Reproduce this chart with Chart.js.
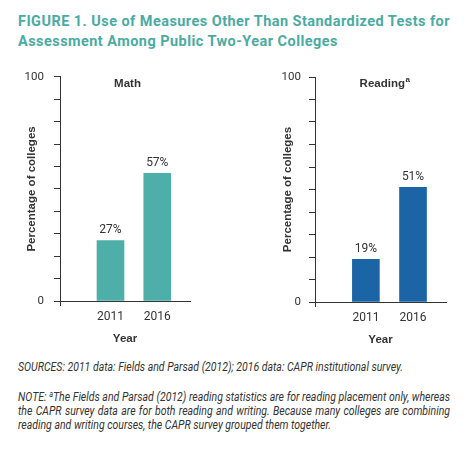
<!DOCTYPE html>
<html>
<head>
<meta charset="utf-8">
<script src="https://cdn.jsdelivr.net/npm/chart.js@4.4.1/dist/chart.umd.min.js"></script>
<style>
  body { margin: 0; width: 472px; height: 450px; background: #fff; position: relative; overflow: hidden; font-family: Roboto, sans-serif; }
  .titulo { position: absolute; left: 18px; top: 10.5px; color: #4aaba3; font-weight: 700; font-size: 15.5px; line-height: 20px; letter-spacing: 0.5px; transform-origin: 0 0; white-space: nowrap; }
  .painel { position: absolute; }
  .rodape { position: absolute; left: 18px; color: #333; font-style: italic; font-size: 12.5px; line-height: 14.3px; transform-origin: 0 0; white-space: nowrap; }
  .linha { display: block; text-align: justify; text-align-last: justify; }
  sup { font-size: 0.7em; vertical-align: 0.45em; line-height: 0; }
</style>
</head>
<body>
<div class="titulo" id="titulo"><span id="t1">FIGURE 1. Use of Measures Other Than Standardized Tests for</span><br><span>Assessment Among Public Two-Year Colleges</span></div>

<canvas class="painel" id="graficoMat" width="236" height="287" style="left:0;top:60px"></canvas>
<canvas class="painel" id="graficoLeit" width="236" height="287" style="left:236px;top:61px"></canvas>

<div class="rodape" id="fontes" style="top:359.5px"><span id="f1">SOURCES: 2011 data: Fields and Parsad (2012); 2016 data: CAPR institutional survey.</span></div>
<div class="rodape" id="nota" style="top:389.5px">
  <span class="linha">NOTE: <sup>a</sup>The Fields and Parsad (2012) reading statistics are for reading placement only, whereas</span>
  <span class="linha">the CAPR survey data are for both reading and writing. Because many colleges are combining</span>
  <span style="display:block">reading and writing courses, the CAPR survey grouped them together.</span>
</div>

<script>
// Dados do gráfico
const anos = [2011, 2016];
const matematica = [27, 57];
const leitura = [19, 51];
const rotulosY = [0, 100];

// Limites do eixo x (anos) para posicionar as barras como no original
const X_MIN = 2005.6;
const X_MAX = 2019.5;

// Ajuste do texto condensado (título e rodapé)
const titulo = document.getElementById('titulo');
const escalaTitulo = 432 / document.getElementById('t1').getBoundingClientRect().width;
titulo.style.transform = `scaleX(${escalaTitulo})`;

const escalaRodape = 385 / document.getElementById('f1').getBoundingClientRect().width;
document.getElementById('fontes').style.transform = `scaleX(${escalaRodape})`;
const nota = document.getElementById('nota');
nota.style.width = `${432 / escalaRodape}px`;
nota.style.transform = `scaleX(${escalaRodape})`;

// Rótulos de valor e título do painel
const rotulos = {
    id: 'rotulos',
    afterDatasetsDraw(chart, args, opts) {
        const { ctx, chartArea } = chart;
        ctx.save();
        ctx.fillStyle = '#333';
        ctx.font = '12px Roboto';
        ctx.textAlign = 'center';
        ctx.textBaseline = 'alphabetic';
        const dados = chart.data.datasets[0].data;
        chart.getDatasetMeta(0).data.forEach((barra, i) => {
            ctx.fillText(dados[i].y + '%', barra.x, barra.y - 7);
        });

        // título do painel (com sobrescrito opcional)
        ctx.font = 'bold 11.5px "Liberation Sans"';
        ctx.textBaseline = 'middle';
        ctx.textAlign = 'left';
        const w1 = ctx.measureText(opts.texto).width;
        ctx.font = 'bold 8px "Liberation Sans"';
        const w2 = opts.sup ? ctx.measureText(opts.sup).width : 0;
        const cx = (chartArea.left + chartArea.right) / 2 + opts.desvio;
        const x0 = cx - (w1 + w2) / 2;
        const y0 = chartArea.top + 6.5;
        ctx.font = 'bold 11.5px "Liberation Sans"';
        ctx.fillText(opts.texto, x0, y0);
        if (opts.sup) {
            ctx.font = 'bold 8px "Liberation Sans"';
            ctx.fillText(opts.sup, x0 + w1 + 0.5, y0 - 4);
        }
        ctx.restore();
    }
};

function criarPainel(idCanvas, valores, cor, texto, sup, desvio, larguraY, margemDireita, margemTitulo, margemTicks) {
    return new Chart(document.getElementById(idCanvas), {
        type: 'bar',
        data: {
            datasets: [{
                data: anos.map((a, i) => ({ x: a, y: valores[i] })),
                backgroundColor: cor,
                barThickness: 27
            }]
        },
        options: {
            responsive: false,
            animation: false,
            layout: { padding: { top: 16, right: margemDireita, bottom: 0, left: 0 } },
            plugins: {
                legend: { display: false },
                tooltip: { enabled: false },
                rotulos: { texto, sup, desvio }
            },
            scales: {
                x: {
                    type: 'linear',
                    min: X_MIN,
                    max: X_MAX,
                    offset: false,
                    afterBuildTicks: s => { s.ticks = [X_MIN, ...anos].map(v => ({ value: v })); },
                    afterFit: s => { s.height = 46; },
                    ticks: {
                        callback: v => anos.includes(v) ? String(v) : '',
                        color: '#333',
                        font: { family: 'Roboto', size: 12 },
                        padding: 4,
                        maxRotation: 0,
                        autoSkip: false
                    },
                    grid: {
                        offset: false,
                        drawOnChartArea: false,
                        tickLength: 5,
                        tickColor: c => (c.tick && c.tick.value === X_MIN) ? '#333' : 'rgba(0,0,0,0)'
                    },
                    border: { color: '#333' },
                    title: {
                        display: true,
                        text: 'Year',
                        color: '#333',
                        font: { family: 'Liberation Sans', size: 11.5, weight: 'bold' },
                        padding: { top: 0, bottom: 1 }
                    }
                },
                y: {
                    min: 0,
                    max: 100,
                    afterFit: s => { s.width = larguraY; },
                    ticks: {
                        stepSize: 10,
                        callback: v => rotulosY.includes(v) ? String(v) : '',
                        color: '#333',
                        font: { family: 'Roboto', size: 11.5 },
                        padding: margemTicks
                    },
                    grid: { drawOnChartArea: false, tickLength: 6, color: '#333' },
                    border: { color: '#333' },
                    title: {
                        display: true,
                        text: 'Percentage of colleges',
                        color: '#333',
                        font: { family: 'Liberation Sans', size: 11.5, weight: 'bold' },
                        padding: { top: margemTitulo, bottom: 0 }
                    }
                }
            }
        },
        plugins: [rotulos]
    });
}

criarPainel('graficoMat', matematica, '#4dafa8', 'Math', '', 2.5, 60, 46, 25, 10);
criarPainel('graficoLeit', leitura, '#1b65a6', 'Reading', 'a', 4, 79, 26, 45, 8);
</script>
</body>
</html>
